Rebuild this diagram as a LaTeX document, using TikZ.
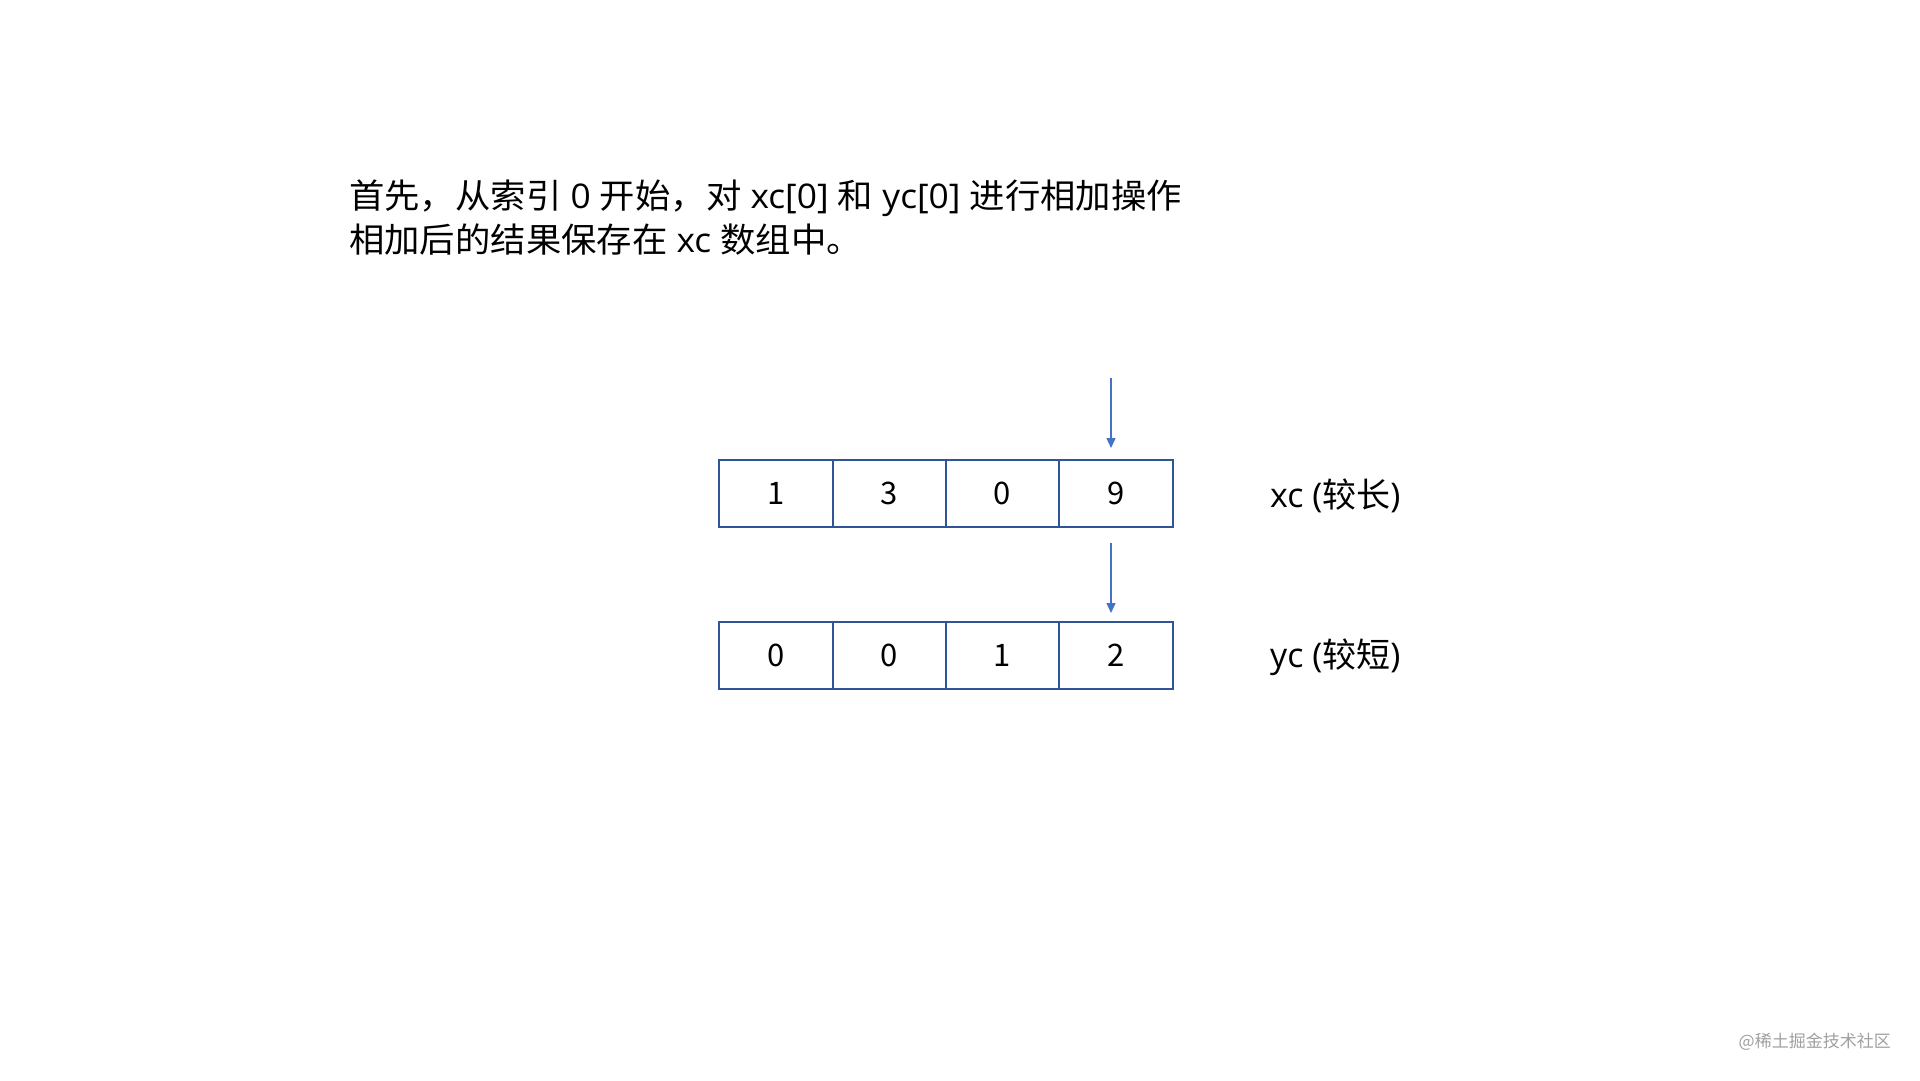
\documentclass[tikz,border=0pt]{standalone}
\usepackage{fontspec}
\setmainfont{Noto Sans CJK SC}
\newfontfamily\lat{Open Sans}
\usetikzlibrary{arrows.meta}
\definecolor{boxblue}{HTML}{2F5597}
\definecolor{arrblue}{HTML}{4472C4}
\definecolor{wmgray}{HTML}{A0A0A0}
\tikzset{
  cell/.style={draw=boxblue, line width=2pt, minimum width=113.5pt, minimum height=67pt, inner sep=0pt, font=\fontsize{31}{31}\selectfont},
  ptr/.style={draw=arrblue, line width=1.3pt, -{Triangle[length=10pt,width=9pt]}},
  lbl/.style={anchor=west, inner sep=0pt, font=\fontsize{34}{34}\selectfont},
  txt/.style={anchor=west, inner sep=0pt, font=\fontsize{34}{34}\selectfont}
}
\begin{document}
\begin{tikzpicture}[x=1pt,y=-1pt]
\useasboundingbox[fill=white] (0,0) rectangle (1920,1080);
\node[txt] (t1) at (349,198) {\scalebox{1.04}[1]{首先，从索引{\lat\ 0 }开始，对{\lat\ xc[0] }和{\lat\ yc[0] }进行相加操作}};
\node[txt] (t2) at (349,240) {\scalebox{1.04}[1]{相加后的结果保存在{\lat\ xc }数组中。}};
% row xc
\node[cell] (x0) at (776,493.5) {1};
\node[cell] (x1) at (889.5,493.5) {3};
\node[cell] (x2) at (1002.5,493.5) {0};
\node[cell] (x3) at (1116,493.5) {9};
% row yc
\node[cell] (y0) at (776,655) {0};
\node[cell] (y1) at (889.5,655) {0};
\node[cell] (y2) at (1002.5,655) {1};
\node[cell] (y3) at (1116,655) {2};
\node[lbl] (lx) at (1270,496) {{\lat xc (}较长{\lat )}};
\node[lbl] (ly) at (1270,657) {{\lat yc (}较短{\lat )}};
\coordinate (a1s) at (1111,378);
\coordinate (a1e) at (1111,448);
\coordinate (a2s) at (1111,543);
\coordinate (a2e) at (1111,613);
\draw[ptr] (a1s) -- (a1e);
\draw[ptr] (a2s) -- (a2e);
\node[anchor=east, inner sep=0pt, text=wmgray, font=\fontsize{17}{17}\selectfont] (wm) at (1891,1042) {@稀土掘金技术社区};
\end{tikzpicture}
\end{document}
